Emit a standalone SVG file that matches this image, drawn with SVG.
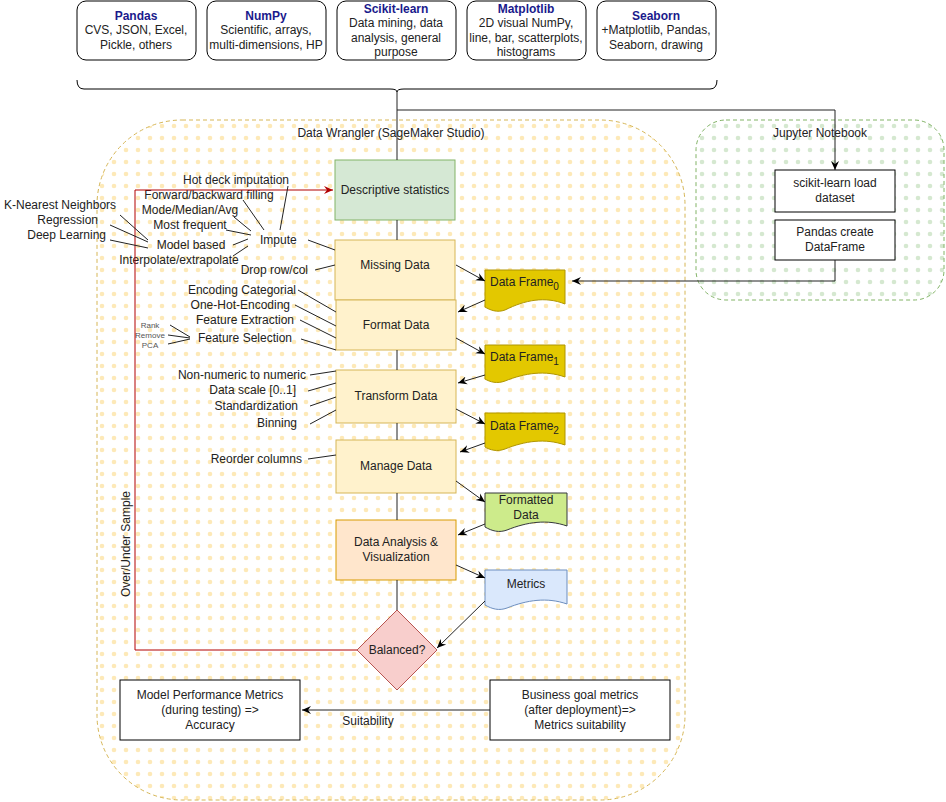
<svg xmlns="http://www.w3.org/2000/svg" width="946" height="802" viewBox="0 0 946 802">
<defs>
<pattern id="yd" width="12" height="12" patternUnits="userSpaceOnUse"><circle cx="6" cy="6" r="2.3" fill="#fde9b8"/></pattern>
<pattern id="gd" width="12" height="12" patternUnits="userSpaceOnUse"><circle cx="6" cy="6" r="2.3" fill="#d5e8d0"/></pattern>
<marker id="ar" markerWidth="10" markerHeight="10" refX="9" refY="5" orient="auto" markerUnits="userSpaceOnUse"><path d="M0,1 L9,5 L0,9 L3,5 Z" fill="#000"/></marker>
<marker id="rr" markerWidth="10" markerHeight="10" refX="9" refY="5" orient="auto" markerUnits="userSpaceOnUse"><path d="M0,1 L9,5 L0,9 L3,5 Z" fill="#b20000"/></marker>
<style>
text{font-family:"Liberation Sans",Arial,sans-serif;font-size:12px;fill:#222}
.c{text-anchor:middle}.e{text-anchor:end}
.t{font-weight:bold;fill:#1a1a8c}
.lib{fill:#fff;stroke:#000;stroke-width:1}
.y{fill:#fff2cc;stroke:#d6b656}
.df{fill:#e3c800;stroke:#b09500}
.ln line,.ln path{stroke:#222;stroke-width:1;fill:none}
.ar{marker-end:url(#ar)}
.sm{font-size:8px;fill:#555}
</style>
</defs>
<rect width="946" height="802" fill="#fff"/>
<g id="wrangler"><rect x="97" y="120" width="588" height="680" rx="85" fill="url(#yd)" stroke="#d6b656" stroke-dasharray="4 3"/><text class="c" x="391" y="137">Data Wrangler (SageMaker Studio)</text></g>
<g id="jupyter"><rect x="696" y="120" width="248" height="180" rx="30" fill="url(#gd)" stroke="#82b366" stroke-dasharray="4 3"/><text class="c" x="820" y="137">Jupyter Notebook</text></g>
<g id="pandas"><rect class="lib" x="77" y="1" width="119" height="59" rx="9"/><text class="c t" x="136" y="20">Pandas</text><text class="c" x="136" y="34">CVS, JSON, Excel,</text><text class="c" x="136" y="49">Pickle, others</text></g>
<g id="numpy"><rect class="lib" x="207" y="1" width="119" height="59" rx="9"/><text class="c t" x="266" y="20">NumPy</text><text class="c" x="266" y="34">Scientific, arrays,</text><text class="c" x="266" y="49">multi-dimensions, HP</text></g>
<g id="sklearn"><rect class="lib" x="337" y="1" width="119" height="59" rx="9"/><text class="c t" x="396" y="13">Scikit-learn</text><text class="c" x="396" y="27">Data mining, data</text><text class="c" x="396" y="42">analysis, general</text><text class="c" x="396" y="56">purpose</text></g>
<g id="matplotlib"><rect class="lib" x="467" y="1" width="119" height="59" rx="9"/><text class="c t" x="526" y="13">Matplotlib</text><text class="c" x="526" y="27">2D visual NumPy,</text><text class="c" x="526" y="42">line, bar, scatterplots,</text><text class="c" x="526" y="56">histograms</text></g>
<g id="seaborn"><rect class="lib" x="597" y="1" width="119" height="59" rx="9"/><text class="c t" x="656" y="20">Seaborn</text><text class="c" x="656" y="34">+Matplotlib, Pandas,</text><text class="c" x="656" y="49">Seaborn, drawing</text></g>
<g id="brace"><path d="M77,80 Q77,89 84,89 H390 Q397,89 397,92 Q397,89 404,89 H710 Q717,89 717,80" fill="none" stroke="#000"/></g>
<g id="descriptive"><rect x="335" y="160" width="120" height="60" fill="#d5e8d4" stroke="#82b366"/><text class="c" x="395" y="194">Descriptive statistics</text></g>
<g id="missing"><rect class="y" x="335" y="240" width="120" height="60"/><text class="c" x="395" y="269">Missing Data</text></g>
<g id="format"><rect class="y" x="336" y="300" width="120" height="50"/><text class="c" x="396" y="329">Format Data</text></g>
<g id="transform"><rect class="y" x="336" y="370" width="120" height="53"/><text class="c" x="396" y="400">Transform Data</text></g>
<g id="manage"><rect class="y" x="336" y="440" width="120" height="53"/><text class="c" x="396" y="470">Manage Data</text></g>
<g id="analysis"><rect x="336" y="520" width="120" height="60" fill="#ffe6cc" stroke="#d79b00"/><text class="c" x="396" y="546">Data Analysis &amp;</text><text class="c" x="396" y="561">Visualization</text></g>
<g id="balanced"><path d="M397,610 L437,650 L397,690 L357,650 Z" fill="#f8cecc" stroke="#b85450"/><text class="c" x="397" y="654">Balanced?</text></g>
<g id="df0"><path class="df" d="M485,270 H565 V304 C545,296 525,300 505,310 C497,313 490,310 485,307 Z"/><text x="490" y="286">Data Frame<tspan font-size="10" dy="4">0</tspan></text></g>
<g id="df1"><path class="df" d="M485,345 H565 V377 C545,370 525,373 505,381 C497,384 490,382 485,379 Z"/><text x="490" y="361">Data Frame<tspan font-size="10" dy="4">1</tspan></text></g>
<g id="df2"><path class="df" d="M485,413 H565 V445 C545,438 525,441 505,449 C497,452 490,450 485,447 Z"/><text x="490" y="430">Data Frame<tspan font-size="10" dy="4">2</tspan></text></g>
<g id="formatted"><path d="M485,493 H567 V526 C547,519 527,522 507,530 C499,533 492,531 485,527 Z" fill="#cdeb8b" stroke="#36393d"/><text class="c" x="526" y="504">Formatted</text><text class="c" x="526" y="519">Data</text></g>
<g id="metrics"><path d="M485,570 H567 V604 C547,597 527,600 507,608 C499,611 492,609 485,605 Z" fill="#dae8fc" stroke="#6c8ebf"/><text class="c" x="526" y="588">Metrics</text></g>
<g id="sklearn-load"><rect class="lib" x="775" y="170" width="120" height="42"/><text class="c" x="835" y="187">scikit-learn load</text><text class="c" x="835" y="202">dataset</text></g>
<g id="pandas-df"><rect class="lib" x="775" y="220" width="120" height="40"/><text class="c" x="835" y="236">Pandas create</text><text class="c" x="835" y="251">DataFrame</text></g>
<g id="model-perf"><rect class="lib" x="120" y="680" width="180" height="60"/><text class="c" x="210" y="699">Model Performance Metrics</text><text class="c" x="210" y="714">(during testing) =&gt;</text><text class="c" x="210" y="729">Accuracy</text></g>
<g id="business"><rect class="lib" x="490" y="680" width="180" height="60"/><text class="c" x="580" y="699">Business goal metrics</text><text class="c" x="580" y="714">(after deployment)=&gt;</text><text class="c" x="580" y="729">Metrics suitability</text></g>
<g id="labels">
<text class="c" x="236" y="184">Hot deck imputation</text>
<text class="c" x="209" y="199">Forward/backward filling</text>
<text class="c" x="190" y="214">Mode/Median/Avg</text>
<text class="c" x="190" y="229">Most frequent</text>
<text class="c" x="191" y="249">Model based</text>
<text class="c" x="179" y="264">Interpolate/extrapolate</text>
<text x="260" y="244">Impute</text>
<text class="e" x="308" y="274">Drop row/col</text>
<text x="4" y="209">K-Nearest Neighbors</text>
<text class="e" x="98" y="224">Regression</text>
<text class="e" x="106" y="239">Deep Learning</text>
<text class="e" x="296" y="294">Encoding Categorial</text>
<text class="e" x="290" y="309">One-Hot-Encoding</text>
<text class="e" x="294" y="324">Feature Extraction</text>
<text class="e" x="292" y="342">Feature Selection</text>
<text class="c sm" x="150" y="328">Rank</text><text class="c sm" x="150" y="338">Remove</text><text class="c sm" x="150" y="348">PCA</text>
<text class="e" x="306" y="379">Non-numeric to numeric</text>
<text class="e" x="296" y="394">Data scale [0..1]</text>
<text class="e" x="298" y="410">Standardization</text>
<text class="e" x="297" y="427">Binning</text>
<text class="e" x="302" y="463">Reorder columns</text>
<text class="c" x="0" y="0" transform="translate(130,544) rotate(-90)" font-size="11">Over/Under Sample</text>
<text class="c" x="368" y="725" font-size="11">Suitability</text>
</g>
<g id="connectors" class="ln">
<path d="M397,92 V160 M397,220 V240 M397,350 V370 M397,423 V440 M397,493 V520 M397,580 V610"/>
<path class="ar" d="M397,110 H835 V170"/>
<path class="ar" d="M835,260 V281 H572"/>
<line class="ar" x1="456" y1="265" x2="485" y2="281"/>
<line class="ar" x1="485" y1="300" x2="458" y2="312"/>
<line class="ar" x1="456" y1="338" x2="485" y2="354"/>
<line class="ar" x1="485" y1="375" x2="458" y2="383"/>
<line class="ar" x1="456" y1="409" x2="485" y2="424"/>
<line class="ar" x1="485" y1="443" x2="460" y2="452"/>
<line class="ar" x1="456" y1="481" x2="485" y2="502"/>
<line class="ar" x1="485" y1="524" x2="458" y2="535"/>
<line class="ar" x1="456" y1="565" x2="485" y2="578"/>
<line class="ar" x1="485" y1="601" x2="437" y2="648"/>
<line class="ar" x1="490" y1="710" x2="302" y2="710"/>
<path d="M357,650 H135 V190 H333" stroke="#b20000" fill="none" marker-end="url(#rr)" style="stroke:#b20000"/>
<line x1="308" y1="240" x2="335" y2="250"/>
<line x1="315" y1="270" x2="335" y2="265"/>
<line x1="288" y1="186" x2="280" y2="230"/>
<line x1="243" y1="200" x2="264" y2="230"/>
<line x1="234" y1="217" x2="251" y2="231"/>
<line x1="226" y1="230" x2="251" y2="235"/>
<line x1="233" y1="245" x2="248" y2="239"/>
<line x1="233" y1="256" x2="248" y2="246"/>
<line x1="120" y1="215" x2="148" y2="240"/>
<line x1="110" y1="225" x2="148" y2="242"/>
<line x1="110" y1="240" x2="148" y2="248"/>
<line x1="298" y1="290" x2="336" y2="312"/>
<line x1="295" y1="305" x2="336" y2="326"/>
<line x1="300" y1="320" x2="336" y2="338"/>
<line x1="301" y1="339" x2="336" y2="350"/>
<line x1="170" y1="325" x2="190" y2="337"/>
<line x1="168" y1="335" x2="190" y2="338"/>
<line x1="168" y1="344" x2="190" y2="339"/>
<line x1="310" y1="375" x2="336" y2="371"/>
<line x1="308" y1="391" x2="336" y2="383"/>
<line x1="310" y1="406" x2="336" y2="397"/>
<line x1="310" y1="424" x2="336" y2="410"/>
<line x1="308" y1="459" x2="336" y2="455"/>
</g>
</svg>
